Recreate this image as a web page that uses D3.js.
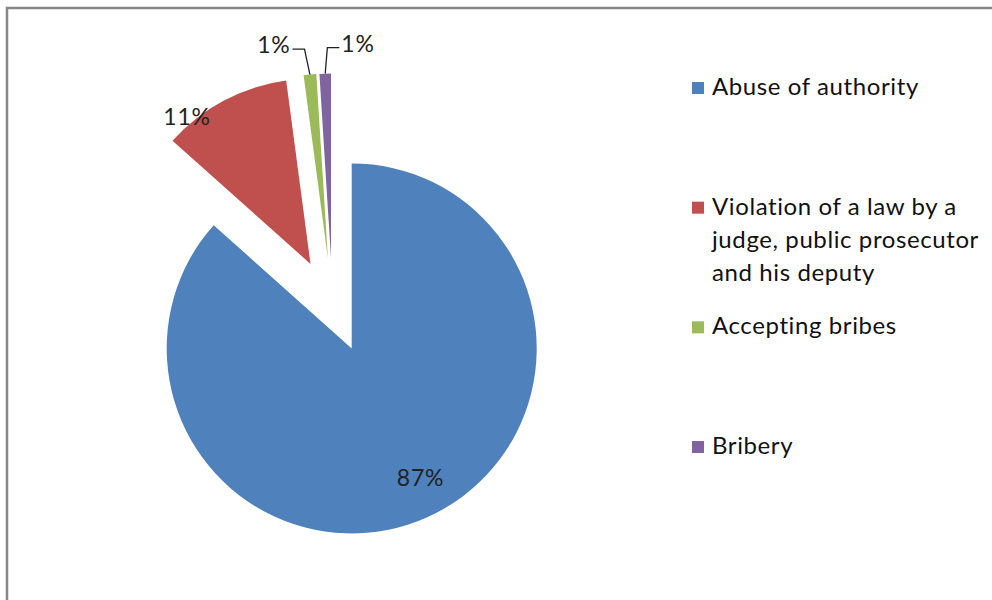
<!DOCTYPE html>
<html>
<head>
<meta charset="utf-8">
<script src="https://cdn.jsdelivr.net/npm/d3@7"></script>
<style>
  body { margin: 0; background: #fff; }
  svg { display: block; font-family: Lato, "Open Sans", sans-serif; }
</style>
</head>
<body>
<svg id="chart" width="992" height="600"></svg>
<script>
// chart data
const categories = ['Abuse of authority', 'Violation of a law by a judge, public prosecutor and his deputy', 'Accepting bribes', 'Bribery'];
const legendLines = [['Abuse of authority'], ['Violation of a law by a', 'judge, public prosecutor', 'and his deputy'], ['Accepting bribes'], ['Bribery']];
const values = [86.6, 11.3, 1.1, 1.0];
const colors = ['#4f81bd', '#c0504d', '#9bbb59', '#8064a2'];

// label placement: angle shift (deg) and radius factor from each slice's tip
const labelPlace = [
  { a: -4, k: 0.79, side: 0 },
  { a: -12, k: 1.04, side: 0 },
  { a: -0.8, k: 1.14, side: -1 },
  { a: 0.8, k: 1.14, side: 1 }
];

const svg = d3.select('#chart');

// outer frame of the chart area
svg.append('rect')
  .attr('x', 7).attr('y', 8)
  .attr('width', 1100).attr('height', 800)
  .attr('fill', 'none')
  .attr('stroke', '#878787')
  .attr('stroke-width', 2.5);

const cx = 332.5, cy = 305.5;
const radius = 185;
const explode = 47;

const pie = d3.pie().sort(null).value(d => d)(values);
const arc = d3.arc().innerRadius(0).outerRadius(radius);
const total = d3.sum(values);
const fmt = d3.format('.0%');

const g = svg.append('g').attr('transform', `translate(${cx},${cy})`);

const polar = (ang, r) => [r * Math.sin(ang), -r * Math.cos(ang)];

const slices = g.selectAll('g.slice')
  .data(pie)
  .enter()
  .append('g')
  .attr('class', 'slice')
  .attr('transform', d => {
    const [dx, dy] = polar((d.startAngle + d.endAngle) / 2, explode);
    return `translate(${dx},${dy})`;
  });

slices.append('path')
  .attr('d', arc)
  .attr('fill', (d, i) => colors[i]);

// data labels
slices.each(function (d, i) {
  const p = labelPlace[i];
  const mid = (d.startAngle + d.endAngle) / 2;
  const ang = mid + p.a * Math.PI / 180;
  const [lx, ly] = polar(ang, radius * p.k);
  const sel = d3.select(this);
  const txt = fmt(d.value / total);
  if (p.side === 0) {
    sel.append('text')
      .attr('x', lx).attr('y', ly)
      .attr('text-anchor', 'middle')
      .attr('dominant-baseline', 'central')
      .attr('font-size', 23)
      .attr('letter-spacing', 0.8)
      .attr('fill', '#222')
      .text(txt);
  } else {
    const [mx, my] = polar(mid, radius);
    const hx = lx + p.side * 12;
    sel.append('path')
      .attr('d', `M${mx},${my}L${lx},${ly}L${hx},${ly}`)
      .attr('fill', 'none')
      .attr('stroke', '#222')
      .attr('stroke-width', 1.3);
    sel.append('text')
      .attr('x', hx + p.side * 2)
      .attr('y', ly - 5)
      .attr('text-anchor', p.side < 0 ? 'end' : 'start')
      .attr('dominant-baseline', 'central')
      .attr('font-size', 23)
      .attr('letter-spacing', 0.8)
      .attr('fill', '#222')
      .text(txt);
  }
});

// legend
const ly = d3.scaleLinear().domain([0, categories.length - 1]).range([88, 447]);
const legend = svg.append('g');
const items = legend.selectAll('g')
  .data(categories)
  .enter()
  .append('g')
  .attr('transform', (d, i) => `translate(692,${ly(i)})`);

items.append('rect')
  .attr('x', 0).attr('y', -6)
  .attr('width', 12).attr('height', 12)
  .attr('fill', (d, i) => colors[i]);

items.append('text')
  .attr('font-size', 24)
  .attr('letter-spacing', 0.6)
  .attr('fill', '#111')
  .selectAll('tspan')
  .data((d, i) => legendLines[i])
  .enter()
  .append('tspan')
  .attr('x', 20)
  .attr('y', (d, j) => 7 + j * 33)
  .text(d => d);
</script>
</body>
</html>
